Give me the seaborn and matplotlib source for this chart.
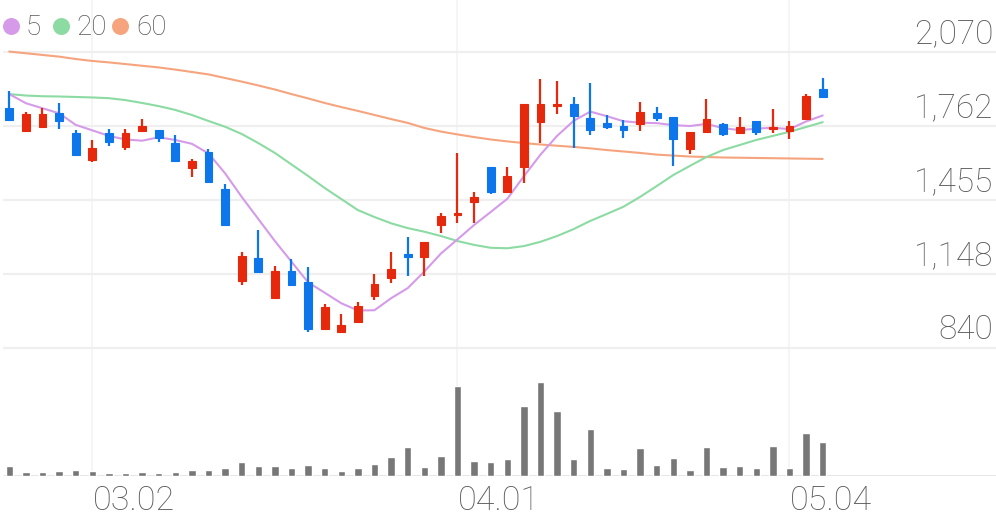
import numpy as np
import pandas as pd
import matplotlib.pyplot as plt
import seaborn as sns

# --- daily candles (index 0..49) ---
opens = [1839, 1742, 1760, 1816, 1735, 1622, 1735, 1677, 1744, 1747,
         1691, 1590, 1656, 1501, 1119, 1212, 1048, 1161, 1115, 918,
         904, 948, 1057, 1129, 1230, 1219, 1351, 1391, 1448, 1594,
         1490, 1594, 1781, 1848, 1854, 1798, 1777, 1764, 1770, 1816,
         1802, 1667, 1739, 1772, 1733, 1785, 1751, 1742, 1792, 1917]
highs = [1909, 1823, 1837, 1858, 1747, 1705, 1749, 1749, 1791, 1747,
         1726, 1624, 1666, 1520, 1240, 1330, 1181, 1208, 1175, 1022,
         980, 1029, 1146, 1240, 1300, 1281, 1400, 1650, 1490, 1594,
         1594, 1854, 1958, 1952, 1883, 1941, 1809, 1788, 1864, 1844,
         1802, 1739, 1874, 1775, 1799, 1785, 1833, 1785, 1896, 1962]
lows = [1788, 1742, 1760, 1751, 1642, 1615, 1680, 1663, 1744, 1698,
        1617, 1550, 1525, 1351, 1101, 1156, 1048, 1101, 907, 918,
        904, 948, 1039, 1111, 1139, 1139, 1316, 1361, 1361, 1480,
        1490, 1527, 1694, 1813, 1673, 1726, 1751, 1712, 1742, 1784,
        1598, 1647, 1733, 1722, 1733, 1726, 1733, 1709, 1788, 1885]
closes = [1788, 1812, 1812, 1785, 1642, 1673, 1698, 1735, 1764, 1712,
          1617, 1619, 1531, 1351, 1223, 1156, 1161, 1101, 918, 1008,
          935, 1015, 1104, 1166, 1219, 1281, 1388, 1402, 1466, 1490,
          1556, 1854, 1854, 1855, 1806, 1747, 1760, 1747, 1823, 1798,
          1709, 1739, 1792, 1730, 1758, 1739, 1760, 1763, 1888, 1885]
volumes = [97, 40, 40, 47, 60, 47, 33, 30, 37, 30,
           37, 60, 57, 83, 140, 100, 97, 80, 107, 77,
           53, 77, 123, 193, 293, 93, 203, 897, 153, 140,
           167, 703, 937, 650, 167, 467, 83, 67, 283, 113,
           180, 63, 287, 90, 97, 77, 297, 80, 427, 343]

# moving averages as drawn
ma5 = [1896, 1858, 1837, 1816, 1768, 1745, 1722, 1707, 1702, 1716,
       1705, 1689, 1649, 1566, 1468, 1376, 1284, 1198, 1112, 1069,
       1025, 995, 996, 1046, 1088, 1157, 1232, 1291, 1351, 1405,
       1460, 1554, 1644, 1722, 1785, 1823, 1804, 1783, 1777, 1775,
       1767, 1763, 1772, 1754, 1746, 1752, 1756, 1750, 1782, 1807]
ma20 = [1896, 1890, 1887, 1886, 1884, 1882, 1879, 1871, 1859, 1846,
        1830, 1809, 1784, 1760, 1730, 1692, 1651, 1603, 1555, 1505,
        1459, 1413, 1384, 1358, 1338, 1323, 1305, 1284, 1268, 1256,
        1254, 1263, 1281, 1305, 1334, 1368, 1397, 1427, 1468, 1513,
        1559, 1597, 1634, 1663, 1684, 1705, 1722, 1739, 1759, 1779]
ma60 = [2073, 2066, 2059, 2052, 2042, 2034, 2028, 2021, 2014, 2007,
        1998, 1988, 1978, 1963, 1948, 1932, 1915, 1896, 1878, 1859,
        1842, 1826, 1809, 1792, 1776, 1755, 1740, 1728, 1717, 1707,
        1699, 1692, 1686, 1681, 1676, 1670, 1663, 1657, 1651, 1644,
        1640, 1636, 1634, 1632, 1631, 1630, 1629, 1628, 1627, 1626]

price_ticks = [840, 1147.5, 1455, 1762.5, 2070]
price_labels = ["840", "1,148", "1,455", "1,762", "2,070"]
date_pos = [5, 27, 47]
date_labels = ["03.02", "04.01", "05.04"]

UP, DOWN = "#e6290c", "#0c76ea"
C5, C20, C60 = "#d59be9", "#8cdba3", "#f6a47e"
TXT = "#585858"
GRID = "#efefef"

sns.set_style("white")
plt.rcParams["font.family"] = ["Roboto", "DejaVu Sans"]

df = pd.DataFrame({"idx": np.arange(len(closes)), "open": opens, "high": highs,
                   "low": lows, "close": closes, "vol": volumes,
                   "ma5": ma5, "ma20": ma20, "ma60": ma60})
df["color"] = np.where(df["close"] >= df["open"], UP, DOWN)

W, H = 996, 519
fig = plt.figure(figsize=(W / 100, H / 100), dpi=100)
ax = fig.add_axes([0, 1 - 350 / H, 1, 350 / H])
axv = fig.add_axes([0, 1 - 476 / H, 1, 126 / H])

xlim = (-0.56, 59.44)
for a in (ax, axv):
    a.set_xlim(*xlim)
    a.set_axis_off()
    for p in date_pos:
        a.axvline(p, color="#f3f3f3", lw=1.2, zorder=0)
ax.set_ylim(830.4, 2287.8)
axv.set_ylim(0, 1260)

# horizontal grid + right labels
for v, lab in zip(price_ticks, price_labels):
    ax.axhline(v, xmin=4 / W, color=GRID, lw=1.6, zorder=0)
    ax.annotate(lab, xy=(1, v), xycoords=("axes fraction", "data"),
                xytext=(-2, 6.5), textcoords="offset points", ha="right",
                va="baseline", fontsize=24, color=TXT, fontweight="light")

# moving averages
for col, c in (("ma60", C60), ("ma20", C20), ("ma5", C5)):
    sns.lineplot(data=df, x="idx", y=col, ax=ax, color=c, lw=1.5, zorder=2)

# candles
ax.vlines(df["idx"], df["low"], df["high"], colors=df["color"], lw=1.6, zorder=3)
body_lo = df[["open", "close"]].min(axis=1)
body_h = np.maximum((df["close"] - df["open"]).abs(), 6)
ax.bar(df["idx"], body_h, bottom=body_lo, width=0.46, color=df["color"],
       edgecolor=df["color"], lw=0.8, zorder=4)
ax.set_xlim(*xlim)
ax.set_ylim(830.4, 2287.8)
ax.set_axis_off()

# volume
axv.axhline(0, xmin=4 / W, color="#e6e6e6", lw=2.2, zorder=1)
sns.barplot(data=df, x="idx", y="vol", ax=axv, native_scale=True, color="#777777",
            saturation=1, width=0.44, zorder=2)
axv.set_xlim(*xlim)
axv.set_ylim(0, 1260)
axv.set_axis_off()

for p, lab in zip(date_pos, date_labels):
    axv.annotate(lab, xy=(p, 0), xycoords="data", xytext=(0.5, -24.5),
                 textcoords="offset points", ha="left", va="baseline",
                 fontsize=24.5, color=TXT, fontweight="light", annotation_clip=False)

# legend
for cx, tx, c, lab in ((10.5, 26, C5, "5"), (60.5, 76, C20, "20"), (119.7, 136, C60, "60")):
    fig.lines.append(plt.Line2D([cx / W], [1 - 26 / H], marker="o", ms=11.2, color=c,
                                mec=c, ls="none", transform=fig.transFigure))
    fig.text(tx / W, 1 - 35 / H, lab, fontsize=20, color=TXT, va="baseline",
             ha="left", fontweight="light")

fig.savefig("out.png", dpi=100)
